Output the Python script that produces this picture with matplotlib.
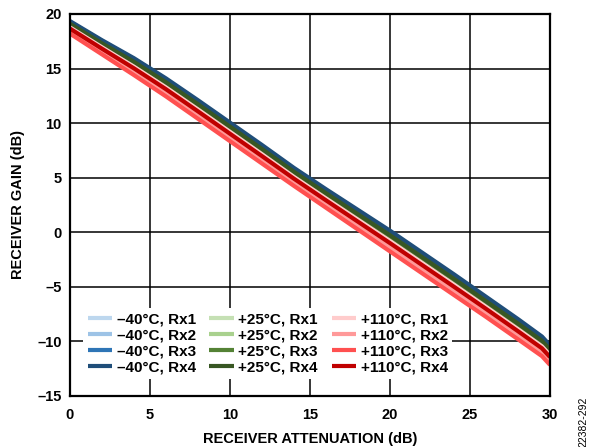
import matplotlib
matplotlib.use("Agg")
import matplotlib.pyplot as plt

plt.rcParams['font.family'] = ['Liberation Sans', 'DejaVu Sans']

# receiver attenuation (dB)
atten = [0, 2, 4, 6, 8, 10, 12, 14, 16, 18, 20, 22, 24, 26, 28, 29.5, 30]

# receiver gain (dB)
gain_m40_rx1 = [19.19, 17.42, 15.73, 13.87, 11.86, 9.81, 7.76, 5.67, 3.71, 1.80, -0.12, -2.12, -4.12, -6.16, -8.21, -9.80, -10.60]
gain_m40_rx2 = [19.23, 17.47, 15.79, 13.93, 11.93, 9.88, 7.83, 5.73, 3.78, 1.87, -0.04, -2.04, -4.04, -6.09, -8.14, -9.73, -10.53]
gain_m40_rx3 = [19.28, 17.52, 15.86, 14.00, 12.00, 9.95, 7.90, 5.80, 3.85, 1.94, 0.04, -1.96, -3.96, -6.01, -8.06, -9.66, -10.46]
gain_m40_rx4 = [19.35, 17.60, 15.95, 14.10, 12.10, 10.05, 8.00, 5.90, 3.95, 2.05, 0.15, -1.85, -3.85, -5.90, -7.95, -9.55, -10.35]

gain_p25_rx1 = [18.52, 16.66, 14.83, 12.91, 10.88, 8.83, 6.78, 4.71, 2.73, 0.75, -1.22, -3.22, -5.22, -7.23, -9.28, -10.85, -11.65]
gain_p25_rx2 = [18.94, 17.13, 15.39, 13.51, 11.49, 9.44, 7.39, 5.31, 3.34, 1.40, -0.53, -2.53, -4.53, -6.57, -8.62, -10.20, -11.00]
gain_p25_rx3 = [19.03, 17.24, 15.52, 13.64, 11.62, 9.57, 7.52, 5.44, 3.47, 1.55, -0.38, -2.38, -4.38, -6.42, -8.47, -10.05, -10.85]
gain_p25_rx4 = [19.10, 17.31, 15.61, 13.74, 11.73, 9.68, 7.63, 5.54, 3.58, 1.65, -0.27, -2.27, -4.27, -6.31, -8.36, -9.95, -10.75]

gain_p110_rx1 = [18.77, 16.95, 15.17, 13.27, 11.25, 9.20, 7.15, 5.07, 3.10, 1.15, -0.80, -2.80, -4.80, -6.83, -8.88, -10.45, -11.25]
gain_p110_rx2 = [18.41, 16.53, 14.68, 12.75, 10.71, 8.66, 6.61, 4.55, 2.56, 0.57, -1.41, -3.41, -5.41, -7.42, -9.47, -11.03, -11.83]
gain_p110_rx3 = [18.20, 16.30, 14.40, 12.45, 10.40, 8.35, 6.30, 4.25, 2.25, 0.25, -1.75, -3.75, -5.75, -7.75, -9.80, -11.35, -12.15]
gain_p110_rx4 = [18.66, 16.82, 15.02, 13.11, 11.08, 9.03, 6.98, 4.91, 2.93, 0.97, -0.99, -2.99, -4.99, -7.01, -9.06, -10.63, -11.43]

series = [
    ("\u201340\u00b0C, Rx1", gain_m40_rx1, "#BDD7EE"),
    ("\u201340\u00b0C, Rx2", gain_m40_rx2, "#9DC3E6"),
    ("\u201340\u00b0C, Rx3", gain_m40_rx3, "#2E75B6"),
    ("\u201340\u00b0C, Rx4", gain_m40_rx4, "#1F4E79"),
    ("+25\u00b0C, Rx1", gain_p25_rx1, "#C5E0B4"),
    ("+25\u00b0C, Rx2", gain_p25_rx2, "#A9D18E"),
    ("+25\u00b0C, Rx3", gain_p25_rx3, "#548235"),
    ("+25\u00b0C, Rx4", gain_p25_rx4, "#385723"),
    ("+110\u00b0C, Rx1", gain_p110_rx1, "#FFCCCC"),
    ("+110\u00b0C, Rx2", gain_p110_rx2, "#FF9999"),
    ("+110\u00b0C, Rx3", gain_p110_rx3, "#FF5050"),
    ("+110\u00b0C, Rx4", gain_p110_rx4, "#C00000"),
]

fig = plt.figure(figsize=(5.95, 4.47), dpi=100)
ax = fig.add_axes([0.1176, 0.1141, 0.8067, 0.8546])

for label, y, color in series:
    ax.plot(atten, y, color=color, lw=3, label=label, solid_capstyle='butt')

ax.set_xlim(0, 30)
ax.set_ylim(-15, 20)
ax.set_xticks(range(0, 31, 5))
ax.set_yticks(range(-15, 21, 5))
ax.set_yticklabels(["\u201315", "\u201310", "\u20135", "0", "5", "10", "15", "20"])
ax.grid(True, color='black', lw=1.1)
ax.set_axisbelow(True)
ax.tick_params(axis='x', length=0, labelsize=10.5, pad=9)
ax.tick_params(axis='y', length=0, labelsize=10.5, pad=6)
for t in ax.get_xticklabels() + ax.get_yticklabels():
    t.set_fontweight('bold')
for sp in ax.spines.values():
    sp.set_linewidth(1.6)

ax.set_xlabel("RECEIVER ATTENUATION (dB)", fontsize=10.5, fontweight='bold', labelpad=7)
ax.set_ylabel("RECEIVER GAIN (dB)", fontsize=10.5, fontweight='bold', labelpad=9)

leg = ax.legend(ncol=3, loc='lower left', bbox_to_anchor=(0.027, 0.045),
                prop={'weight': 'bold', 'size': 11}, frameon=True,
                framealpha=1, edgecolor='none', fancybox=False,
                handlelength=1.6, handletextpad=0.3, columnspacing=0.9,
                labelspacing=0.12, borderpad=0.3, borderaxespad=0)
for line in leg.get_lines():
    line.set_linewidth(3)

fig.text(0.98, 0.056, "22382-292", rotation=90, fontsize=7.5, ha='center', va='center')

fig.savefig("out.png", dpi=100)
